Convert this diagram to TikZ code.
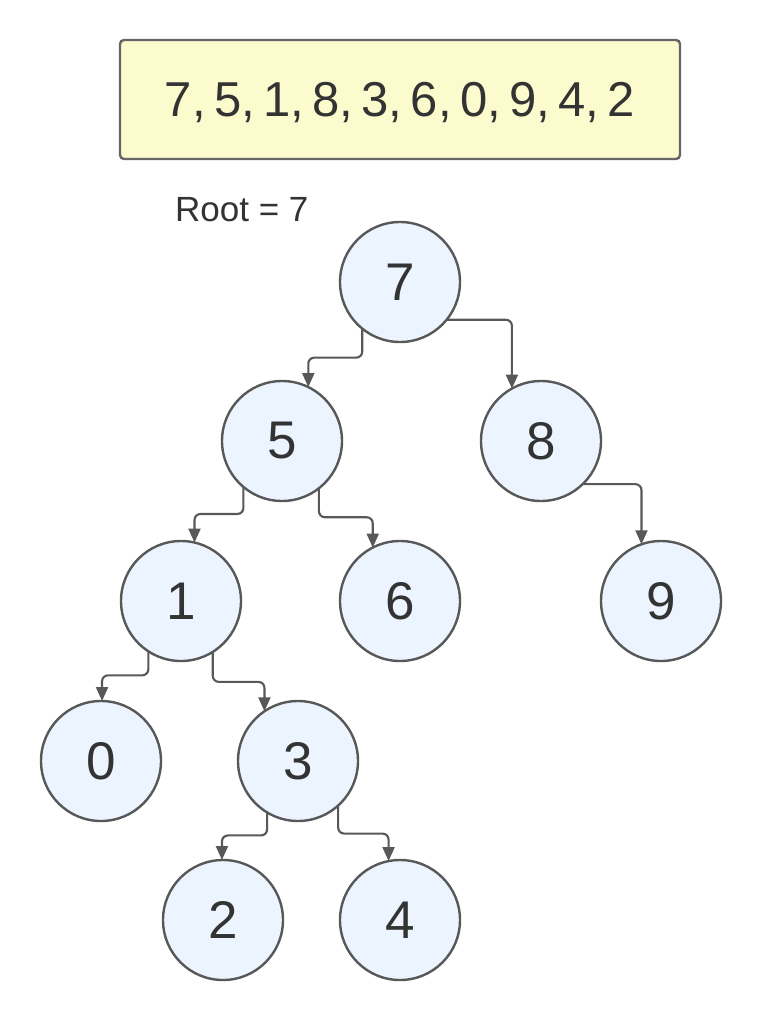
\documentclass[tikz,border=0pt]{standalone}
\usepackage{fontspec}
\setmainfont{Liberation Sans}
\usetikzlibrary{arrows.meta}

\definecolor{nodefill}{RGB}{236,244,255}
\definecolor{edgegray}{RGB}{88,88,88}
\definecolor{notefill}{RGB}{251,251,205}
\definecolor{notedraw}{RGB}{102,102,102}
\definecolor{inkgray}{RGB}{51,51,51}

\begin{document}
\begin{tikzpicture}[x=1pt,y=-1pt,
  bst/.style={circle, draw=edgegray, line width=2.4pt, fill=nodefill,
    minimum size=120pt, inner sep=0pt, outer sep=0pt, text=inkgray,
    font=\fontsize{53}{53}\selectfont},
  notebox/.style={draw=notedraw, line width=2.4pt, fill=notefill,
    rounded corners=4pt, minimum width=560pt, minimum height=119pt,
    inner sep=0pt, text depth=0pt, text=inkgray,
    font=\fontsize{49}{49}\selectfont},
  link/.style={draw=edgegray, line width=2.1pt, rounded corners=6pt,
    -{Triangle[length=14pt,width=12pt]}},
]
  % page frame
  \fill[white] (0,0) rectangle (762,1022);
  \useasboundingbox (0,0) rectangle (762,1022);

  % insertion order
  \node[notebox] (seq) at (400,99.5) {\spaceskip=0.17em\relax 7, 5, 1, 8, 3, 6, 0, 9, 4, 2};
  \node[anchor=base west, inner sep=0pt, text=inkgray,
        font=\fontsize{35}{35}\selectfont] (rootlbl) at (175,221.7) {Root = 7};

  % tree nodes
  \node[bst] (n7) at (400,282) {7};
  \node[bst] (n5) at (282,441) {5};
  \node[bst] (n8) at (541,441) {8};
  \node[bst] (n1) at (181,601) {1};
  \node[bst] (n6) at (400,601) {6};
  \node[bst] (n9) at (661,601) {9};
  \node[bst] (n0) at (101,761) {0};
  \node[bst] (n3) at (298,761) {3};
  \node[bst] (n2) at (223,920) {2};
  \node[bst] (n4) at (400,920) {4};

  % child links
  \draw[link] (n7.231) -- ++(0,29) -| (n5.64);
  \draw[link] (n7.-39) -| (n8.119);
  \draw[link] (n5.230) -- ++(0,27) -| (n1.77);
  \draw[link] (n5.-52) -- ++(0,29) -| (n6.117);
  \draw[link] (n8.-46) -| (n9.109);
  \draw[link] (n1.237) -- ++(0,24) -| (n0.89);
  \draw[link] (n1.-58) -- ++(0,30) -| (n3.124);
  \draw[link] (n3.239) -- ++(0,23) -| (n2.91);
  \draw[link] (n3.-48) -- ++(0,28) -| (n4.101);
\end{tikzpicture}
\end{document}
